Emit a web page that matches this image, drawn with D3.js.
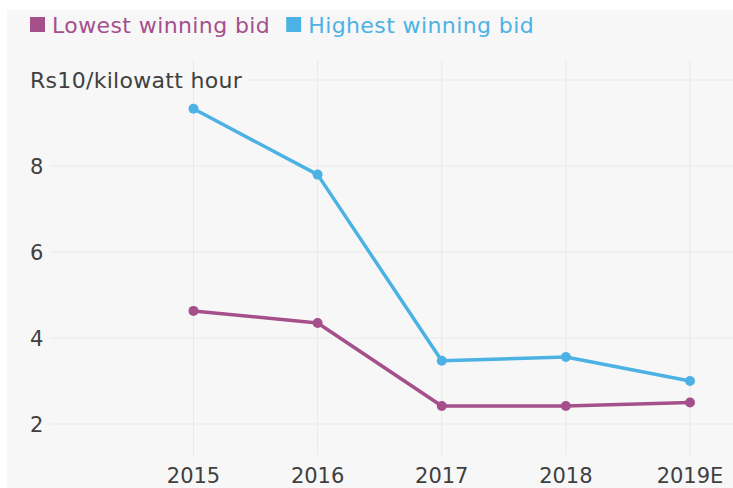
<!DOCTYPE html>
<html>
<head>
<meta charset="utf-8">
<script src="https://cdn.jsdelivr.net/npm/d3@7"></script>
<style>
  body { margin: 0; background: #fff; }
  svg { display: block; font-family: "DejaVu Sans", sans-serif; }
</style>
</head>
<body>
<svg id="chart" width="733" height="488"></svg>
<script>
// values
const years = ['2015', '2016', '2017', '2018', '2019E'];
const lowest = [4.63, 4.35, 2.42, 2.42, 2.5];
const highest = [9.33, 7.8, 3.47, 3.56, 3.0];
const yTicks = [2, 4, 6, 8];
const unitLabel = 'Rs10/kilowatt hour';

const series = [
    {name: 'Lowest winning bid', values: lowest, color: '#a5508a'},
    {name: 'Highest winning bid', values: highest, color: '#4cb2e3'}
];

const svg = d3.select('#chart');
const W = 733, H = 488;
const textCol = '#404040';

// light grey panel
svg.append('rect')
    .attr('x', 7).attr('y', 10)
    .attr('width', W - 7).attr('height', H - 10)
    .attr('fill', '#f7f7f8');

const x = d3.scalePoint().domain(years).range([193.5, 690]);
const y = d3.scaleLinear().domain([2, 10]).range([424, 80]);

// vertical grid
svg.append('g').selectAll('line')
    .data(years)
    .enter()
    .append('line')
    .attr('x1', d => x(d)).attr('x2', d => x(d))
    .attr('y1', 60).attr('y2', 455)
    .attr('stroke', '#e9e9eb').attr('stroke-width', 1);

// unit label sits where the 10 tick would be
const unit = svg.append('text')
    .attr('x', 30).attr('y', y(10) + 8)
    .attr('font-size', 22)
    .attr('letter-spacing', 0.3)
    .attr('fill', textCol)
    .text(unitLabel);
const unitEnd = 30 + unit.node().getComputedTextLength() + 6;

// horizontal grid
svg.append('g').selectAll('line')
    .data(yTicks.concat([10]))
    .enter()
    .append('line')
    .attr('x1', d => d === 10 ? unitEnd : 50).attr('x2', W)
    .attr('y1', d => y(d)).attr('y2', d => y(d))
    .attr('stroke', '#e9e9eb').attr('stroke-width', 1);

// y tick labels
svg.append('g').selectAll('text')
    .data(yTicks)
    .enter()
    .append('text')
    .attr('x', 30).attr('y', d => y(d))
    .attr('dy', '0.36em')
    .attr('font-size', 21)
    .attr('fill', textCol)
    .text(d => d);

// x tick labels
svg.append('g').selectAll('text')
    .data(years)
    .enter()
    .append('text')
    .attr('x', d => x(d)).attr('y', 483)
    .attr('text-anchor', 'middle')
    .attr('font-size', 21)
    .attr('fill', textCol)
    .text(d => d);

// lines + dots
const line = d3.line()
    .x((d, i) => x(years[i]))
    .y(d => y(d));

series.forEach(s => {
    svg.append('path')
        .datum(s.values)
        .attr('d', line)
        .attr('fill', 'none')
        .attr('stroke', s.color)
        .attr('stroke-width', 3.5)
        .attr('stroke-linejoin', 'round');
    svg.append('g').selectAll('circle')
        .data(s.values)
        .enter()
        .append('circle')
        .attr('cx', (d, i) => x(years[i]))
        .attr('cy', d => y(d))
        .attr('r', 5)
        .attr('fill', s.color);
});

// legend
let lx = 30;
series.forEach(s => {
    svg.append('rect')
        .attr('x', lx).attr('y', 17)
        .attr('width', 15).attr('height', 15)
        .attr('fill', s.color);
    const t = svg.append('text')
        .attr('x', lx + 22).attr('y', 32.5)
        .attr('font-size', 22)
        .attr('letter-spacing', 0.4)
        .attr('fill', s.color)
        .text(s.name);
    lx += 22 + t.node().getComputedTextLength() + 16;
});
</script>
</body>
</html>
